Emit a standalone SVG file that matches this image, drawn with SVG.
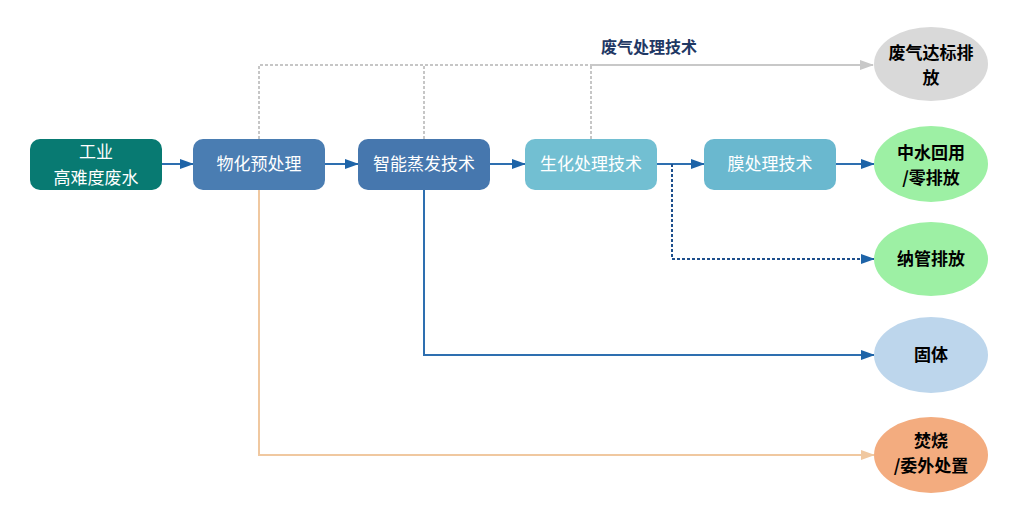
<svg xmlns="http://www.w3.org/2000/svg" width="1016" height="524" viewBox="0 0 1016 524">
<defs>
<marker id="ag" markerWidth="14" markerHeight="10" refX="13" refY="5" orient="auto" markerUnits="userSpaceOnUse"><path d="M0,0 L14,5 L0,10 Z" fill="#c8c8c8"/></marker>
<marker id="at" markerWidth="14" markerHeight="10" refX="13" refY="5" orient="auto" markerUnits="userSpaceOnUse"><path d="M0,0 L14,5 L0,10 Z" fill="#f0c8a0"/></marker>
<marker id="an" markerWidth="14" markerHeight="10" refX="13" refY="5" orient="auto" markerUnits="userSpaceOnUse"><path d="M0,0 L14,5 L0,10 Z" fill="#1e64a8"/></marker>
</defs>
<style>
.bt{font-family:"Noto Sans CJK SC","Liberation Sans",sans-serif;font-size:17px;fill:#ffffff;text-anchor:middle}
.et{font-family:"Noto Sans CJK SC","Liberation Sans",sans-serif;font-size:17px;font-weight:bold;fill:#000000;text-anchor:middle}
.blue{stroke:#2e6fb0;stroke-width:2;fill:none}
</style>
<rect width="1016" height="524" fill="#ffffff"/>
<g id="connectors">
<path d="M259,139 V65 H591" stroke="#b4b4b4" stroke-width="1.5" stroke-dasharray="3,2" fill="none"/>
<path d="M424,139 V65" stroke="#b4b4b4" stroke-width="1.5" stroke-dasharray="3,2" fill="none"/>
<path d="M591,139 V65" stroke="#b4b4b4" stroke-width="1.5" stroke-dasharray="3,2" fill="none"/>
<path d="M591,65 H873" stroke="#c8c8c8" stroke-width="2" fill="none" marker-end="url(#ag)"/>
<line x1="162" y1="164" x2="193" y2="164" class="blue" marker-end="url(#an)"/>
<line x1="325" y1="164" x2="358" y2="164" class="blue" marker-end="url(#an)"/>
<line x1="490" y1="164" x2="525" y2="164" class="blue" marker-end="url(#an)"/>
<line x1="657" y1="164" x2="704" y2="164" class="blue" marker-end="url(#an)"/>
<line x1="836" y1="164" x2="874" y2="164" class="blue" marker-end="url(#an)"/>
<path d="M672,164 V259 H874" stroke="#1e4f8c" stroke-width="2" stroke-dasharray="3,2" fill="none" marker-end="url(#an)"/>
<path d="M424,190 V355 H874" class="blue" marker-end="url(#an)"/>
<path d="M259,190 V455 H874" stroke="#f0c8a0" stroke-width="2" fill="none" marker-end="url(#at)"/>
<text x="649" y="53" font-family="'Noto Sans CJK SC','Liberation Sans',sans-serif" font-size="16" font-weight="bold" fill="#1f3864" text-anchor="middle">废气处理技术</text>
</g>
<g id="n1"><rect x="30" y="139" width="132" height="51" rx="10" fill="#087a72"/><text class="bt" x="96" y="158">工业</text><text class="bt" x="96" y="184">高难度废水</text></g>
<g id="n2"><rect x="193" y="139" width="132" height="51" rx="10" fill="#4a7db2"/><text class="bt" x="259" y="170">物化预处理</text></g>
<g id="n3"><rect x="358" y="139" width="132" height="51" rx="10" fill="#4677ae"/><text class="bt" x="424" y="170">智能蒸发技术</text></g>
<g id="n4"><rect x="525" y="139" width="132" height="51" rx="10" fill="#72bfd2"/><text class="bt" x="591" y="170">生化处理技术</text></g>
<g id="n5"><rect x="704" y="139" width="132" height="51" rx="10" fill="#6ab8cf"/><text class="bt" x="770" y="170">膜处理技术</text></g>
<g id="e1"><ellipse cx="931" cy="64" rx="57" ry="37" fill="#d9d9d9"/><text class="et" x="931" y="59">废气达标排</text><text class="et" x="931" y="84">放</text></g>
<g id="e2"><ellipse cx="931" cy="164" rx="57" ry="38" fill="#9df0a4"/><text class="et" x="931" y="159">中水回用</text><text class="et" x="931" y="184">/零排放</text></g>
<g id="e3"><ellipse cx="931" cy="259" rx="57" ry="37" fill="#9df0a4"/><text class="et" x="931" y="265">纳管排放</text></g>
<g id="e4"><ellipse cx="931" cy="355" rx="57" ry="38" fill="#bdd6ec"/><text class="et" x="931" y="361">固体</text></g>
<g id="e5"><ellipse cx="931" cy="455" rx="57" ry="38" fill="#f3ac7f"/><text class="et" x="931" y="447">焚烧</text><text class="et" x="931" y="472">/委外处置</text></g>
</svg>
